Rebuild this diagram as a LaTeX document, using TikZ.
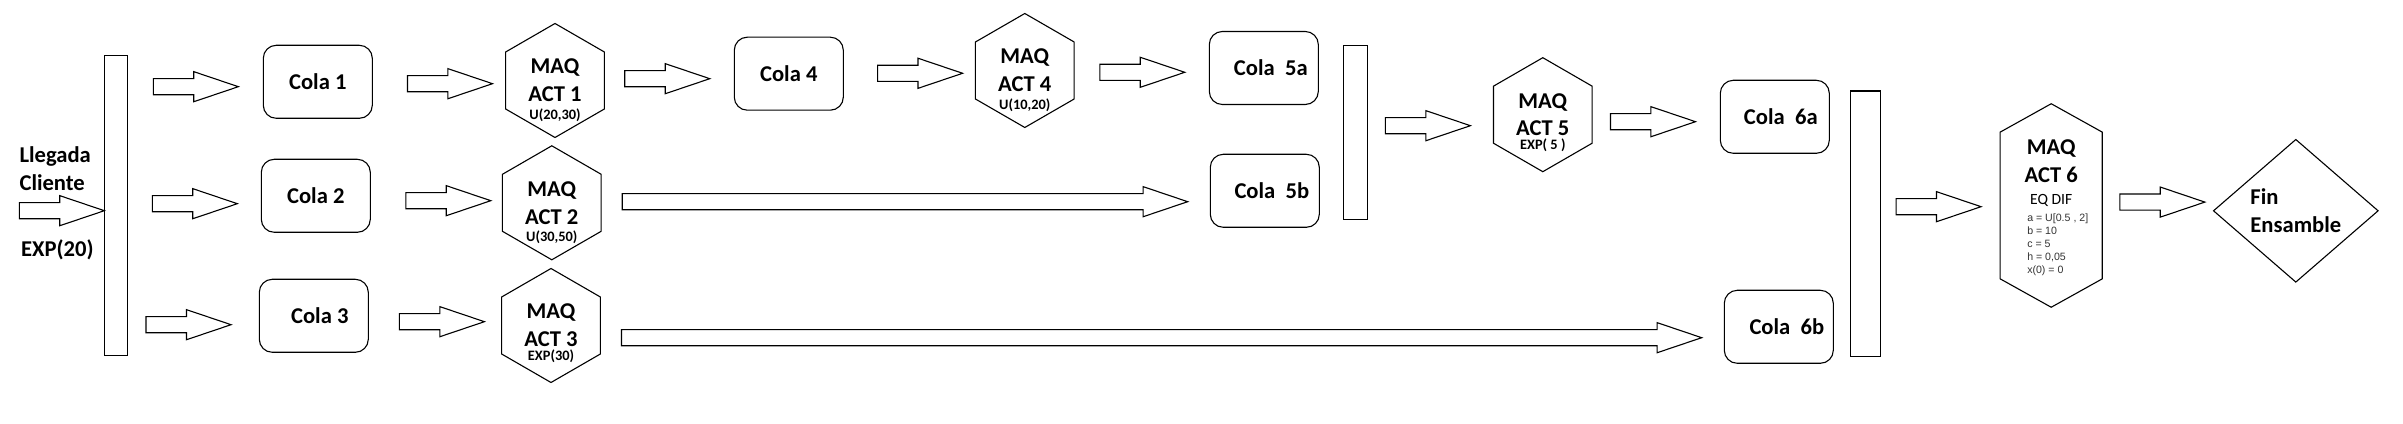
\documentclass[tikz,border=0pt]{standalone}
\usepackage{fontspec}
\setmainfont{Carlito}
\newfontfamily\paramfont{Liberation Sans}
\usetikzlibrary{ shapes.geometric, % For the hexagons and the diamond
                 shapes.arrows,    % For the block arrows
                 calc,
                 positioning,
               }
\newcommand{\txtmain}{\fontsize{11.3bp}{13.9bp}\selectfont}
\newcommand{\txtpar}{\fontsize{7.2bp}{8.6bp}\selectfont}
\newcommand{\txteq}{\fontsize{7.8bp}{9.4bp}\selectfont}
\newcommand{\txtsmall}{\paramfont\fontsize{5.3bp}{6.5bp}\selectfont}

\tikzstyle{queue} = [rectangle, rounded corners=6.5bp, draw=black, minimum width=54.5bp, minimum height=36.5bp, font=\txtmain\bfseries]
\tikzstyle{machine} = [regular polygon, regular polygon sides=6, shape border rotate=90, draw=black, minimum size=57bp, inner sep=0pt, align=center, font=\txtmain\bfseries]
\tikzstyle{param} = [inner sep=0pt, font=\txtpar\bfseries]
\tikzstyle{splitbar} = [rectangle, draw=black, inner sep=0pt]
\tikzstyle{endnode} = [diamond, draw=black, aspect=1.154, minimum width=82.5bp, minimum height=71.5bp, inner sep=0pt, align=left, font=\txtmain\bfseries]
\tikzstyle{arrowshape} = [single arrow, draw=black, anchor=tail, inner xsep=0pt, inner ysep=3.75bp, minimum width=0pt, single arrow head extend=3.5bp, single arrow tip angle=37.3, single arrow head indent=0pt]
\tikzset{
  blockarrow/.style={to path={
    let \p1=(\tikztostart.east), \p2=(\tikztotarget.west), \p3=($(\p1)!0.5!(\p2)$) in
    node[arrowshape, minimum height=42.5bp, #1] at ({\x3-21.25bp},\y2) {}}},
  blockarrow/.default={},
  longarrow/.style={to path={
    let \p1=(\tikztostart.east), \p2=(\tikztotarget.west),
        \n1={\x2-\x1-21.3bp} in
    node[arrowshape, minimum height=\n1, #1] at ({\x1+10bp},\y2) {}}},
  longarrow/.default={},
}

\begin{document}
\begin{tikzpicture}[x=0.5bp, y=-0.5bp, line width=0.55bp]
  \fill[white] (0,0) rectangle (2403,424);
  \useasboundingbox (0,0) rectangle (2403,424);

  % arrival
  \node (entrada) [inner sep=0pt] at (17.3,210.7) {};
  \node (llegada) [anchor=west, align=left, inner sep=0pt, font=\txtmain\bfseries] at (19,169) {Llegada\\Cliente};
  \node (tasa) [anchor=west, inner sep=0pt, font=\txtmain\bfseries] at (20.5,250) {EXP(20)};
  \node (bar1) [splitbar, minimum width=11.5bp, minimum height=150bp] at (115.8,205.2) {};

  % first stage
  \node (cola1) [queue] at (317.8,81.8) {Cola 1};
  \node (cola2) [queue] at (315.8,195.8) {Cola 2};
  \node (cola3) [queue] at (313.8,315.8) {\hspace*{6bp}Cola 3};
  \node (maq1) [machine] at (555,80.5) {MAQ\\ACT 1};
  \node (maq2) [machine] at (551.8,202.8) {MAQ\\ACT 2};
  \node (maq3) [machine] at (551,325.5) {MAQ\\ACT 3};
  \node (par1) [param] at ([yshift=-17.25bp]maq1.center) {U(20,30)};
  \node (par2) [param] at ([yshift=-17bp]maq2.center) {U(30,50)};
  \node (par3) [param] at ([yshift=-15.6bp]maq3.center) {EXP(30)};

  % second stage
  \node (cola4) [queue] at (788.8,73.7) {Cola 4};
  \node (maq4) [machine] at (1024.8,70.5) {MAQ\\ACT 4};
  \node (par4) [param] at ([yshift=-17.25bp]maq4.center) {U(10,20)};
  \node (cola5a) [queue] at (1263.8,68) {\hspace*{7bp}Cola~~5a};
  \node (cola5b) [queue] at (1264.8,190.8) {\hspace*{7bp}Cola~~5b};
  \node (bar2) [splitbar, minimum width=12bp, minimum height=87bp] at (1355.3,132.3) {};
  \node (maq5) [machine] at (1542.8,114.7) {MAQ\\ACT 5};
  \node (par5) [param] at ([yshift=-15.5bp]maq5.center) {EXP(~5~)};

  % assembly
  \node (cola6a) [queue] at (1774.8,116.8) {\hspace*{6bp}Cola~~6a};
  \node (cola6b) [queue] at (1778.8,326.8) {\hspace*{8bp}Cola~~6b};
  \node (bar3) [splitbar, minimum width=15.2bp, minimum height=132.7bp] at (1865.5,223.7) {};
  \node (maq6) [inner sep=0pt, minimum width=50.5bp, minimum height=101.2bp] at (2051.2,205.5) {};
  \draw (maq6.north) -- ([yshift=-14.2bp]maq6.north east) -- ([yshift=14.2bp]maq6.south east)
    -- (maq6.south) -- ([yshift=14.2bp]maq6.south west) -- ([yshift=-14.2bp]maq6.north west) -- cycle;
  \node (act6) [align=center, inner sep=0pt, font=\txtmain\bfseries] at ([yshift=22bp]maq6.center) {MAQ\\ACT 6};
  \node (eqdif) [inner sep=0pt, font=\txteq] at ([yshift=2.75bp]maq6.center) {EQ DIF};
  \node (coef) [anchor=west, align=left, inner sep=0pt, font=\txtsmall, text=black!80] at (2026.7,244.5)
    {a = U[0.5 , 2]\\b = 10\\c = 5\\h = 0,05\\x(0) = 0};
  \node (fin) [endnode] at (2295.8,210.8) {Fin\\Ensamble};

  % block arrows
  \path (entrada) edge[blockarrow={yshift=-2.75bp}] (bar1);
  \path (bar1) edge[blockarrow={yshift=-2.45bp}] (cola1)
               edge[blockarrow={yshift=-3.95bp}] (cola2)
               edge[blockarrow={xshift=-2.65bp, yshift=-4.45bp}] (cola3);
  \path (cola1) edge[blockarrow={xshift=5.25bp, yshift=-1.6bp}] (maq1);
  \path (cola2) edge[blockarrow={xshift=5.7bp, yshift=1.05bp}] (maq2);
  \path (cola3) edge[blockarrow={xshift=3.2bp, yshift=1.9bp}] (maq3);
  \path (maq1) edge[blockarrow={xshift=-1.3bp, yshift=-2.5bp}] (cola4);
  \path (cola4) edge[blockarrow={xshift=5.1bp, yshift=-1.4bp}] (maq4);
  \path (maq4) edge[blockarrow={yshift=-2.15bp}] (cola5a);
  \path (maq2) edge[longarrow={yshift=-5.45bp}] (cola5b);
  \path (maq3) edge[longarrow={yshift=-5.45bp}] (cola6b);
  \path (bar2) edge[blockarrow={xshift=-1.5bp, yshift=-5.5bp}] (maq5);
  \path (maq5) edge[blockarrow={xshift=-1.9bp, yshift=-2.45bp}] (cola6a);
  \path (bar3) edge[blockarrow={xshift=-1.35bp, yshift=-0.6bp}] (maq6);
  \path (maq6) edge[blockarrow={xshift=2.15bp, yshift=4.35bp}] (fin);
\end{tikzpicture}
\end{document}
